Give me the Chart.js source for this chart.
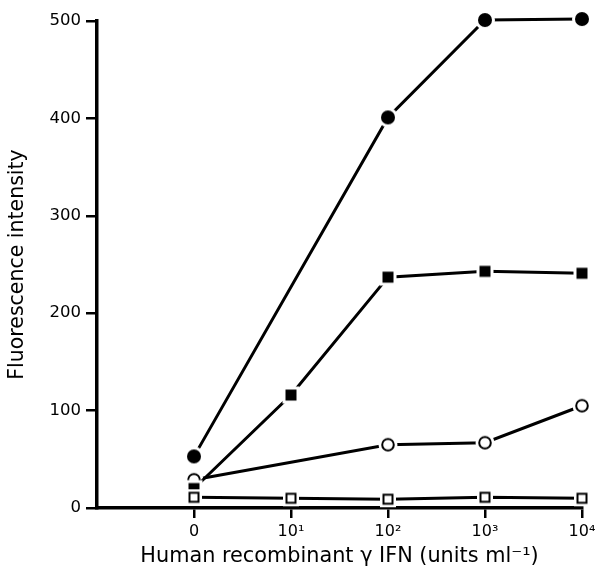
<!DOCTYPE html>
<html>
<head>
<meta charset="utf-8">
<script src="https://cdn.jsdelivr.net/npm/chart.js@4/dist/chart.umd.min.js"></script>
<style>
  html, body { margin: 0; padding: 0; background: #fff; }
  #wrap { width: 606px; height: 574px; }
</style>
</head>
<body>
<div id="wrap"><canvas id="myChart" width="606" height="574"></canvas></div>
<script>
// dose labels on the x axis (position = index)
var doses = ['0', '10\u00B9', '10\u00B2', '10\u00B3', '10\u2074'];

// fluorescence intensity (null = no point at that dose)
var filledCircle = [53, null, 401, 501, 502];
var filledSquare = [20, 116, 237, 243, 241];
var openCircle = [29, null, 65, 67, 105];
var openSquare = [11, 10, 9, 11, 10];

var yTicks = [0, 100, 200, 300, 400, 500];

var FONT = 'DejaVu Sans';

// small canvases used as point styles, white halo so the line stops short of the mark
function makeMarker(kind) {
  var c = document.createElement('canvas');
  c.width = 24;
  c.height = 24;
  var ctx = c.getContext('2d');
  var m = 12;
  ctx.fillStyle = '#fff';
  if (kind == 'filledCircle' || kind == 'openCircle') {
    ctx.beginPath();
    ctx.arc(m, m, kind == 'filledCircle' ? 10 : 9.5, 0, Math.PI * 2);
    ctx.fill();
  } else {
    var h = kind == 'filledSquare' ? 8.5 : 8;
    ctx.fillRect(m - h, m - h, h * 2, h * 2);
  }
  ctx.fillStyle = '#000';
  ctx.strokeStyle = '#000';
  if (kind == 'filledCircle') {
    ctx.beginPath();
    ctx.arc(m, m, 7, 0, Math.PI * 2);
    ctx.fill();
  } else if (kind == 'filledSquare') {
    ctx.fillRect(m - 5.5, m - 5.5, 11, 11);
  } else if (kind == 'openCircle') {
    ctx.lineWidth = 2;
    ctx.beginPath();
    ctx.arc(m, m, 5.8, 0, Math.PI * 2);
    ctx.fillStyle = '#fff';
    ctx.fill();
    ctx.stroke();
  } else {
    ctx.lineWidth = 2;
    ctx.fillStyle = '#fff';
    ctx.fillRect(m - 5, m - 5, 10, 10);
    ctx.strokeRect(m - 4.5, m - 4.5, 9, 9);
  }
  return c;
}

function toPoints(arr) {
  var out = [];
  for (var i = 0; i < arr.length; i++) {
    if (arr[i] !== null) out.push({ x: i, y: arr[i] });
  }
  return out;
}

function series(values, kind) {
  return {
    data: toPoints(values),
    borderColor: '#000',
    borderWidth: 3,
    pointStyle: makeMarker(kind),
    pointRadius: 8,
    pointHoverRadius: 8,
    tension: 0,
    clip: false
  };
}

var data = {
  datasets: [
    series(openSquare, 'openSquare'),
    series(filledSquare, 'filledSquare'),
    series(openCircle, 'openCircle'),
    series(filledCircle, 'filledCircle')
  ]
};

var config = {
  type: 'line',
  data: data,
  options: {
    responsive: false,
    animation: false,
    events: [],
    layout: { padding: { top: 21, right: 24, left: 0, bottom: 0 } },
    plugins: { legend: { display: false }, tooltip: { enabled: false } },
    scales: {
      x: {
        type: 'linear',
        min: -1,
        max: 4,
        afterBuildTicks: function (scale) {
          scale.ticks = doses.map(function (d, i) { return { value: i }; });
        },
        afterFit: function (scale) { scale.height = 66; },
        border: { display: true, color: '#000', width: 3.5 },
        grid: { drawOnChartArea: false, drawTicks: true, tickLength: 10, color: '#000', lineWidth: 2.5 },
        ticks: {
          color: '#000',
          padding: 4,
          maxRotation: 0,
          font: { family: FONT, size: 16 },
          callback: function (v) { return doses[v]; }
        },
        title: {
          display: true,
          text: 'Human recombinant \u03B3 IFN (units ml\u207B\u00B9)',
          color: '#000',
          font: { family: FONT, size: 20.8 },
          padding: { top: 0, bottom: 5 }
        }
      },
      y: {
        min: 0,
        max: 500,
        afterBuildTicks: function (scale) {
          scale.ticks = yTicks.map(function (v) { return { value: v }; });
        },
        afterFit: function (scale) { scale.width = 97; },
        border: { display: true, color: '#000', width: 3.5 },
        grid: { drawOnChartArea: false, drawTicks: true, tickLength: 11, color: '#000', lineWidth: 2.5 },
        ticks: {
          color: '#000',
          padding: 5,
          font: { family: FONT, size: 16.5 }
        },
        title: {
          display: true,
          text: 'Fluorescence intensity',
          color: '#000',
          font: { family: FONT, size: 20.5 },
          padding: { top: 5, bottom: 0 }
        }
      }
    }
  }
};

var myChart = new Chart(document.getElementById('myChart'), config);
</script>
</body>
</html>
